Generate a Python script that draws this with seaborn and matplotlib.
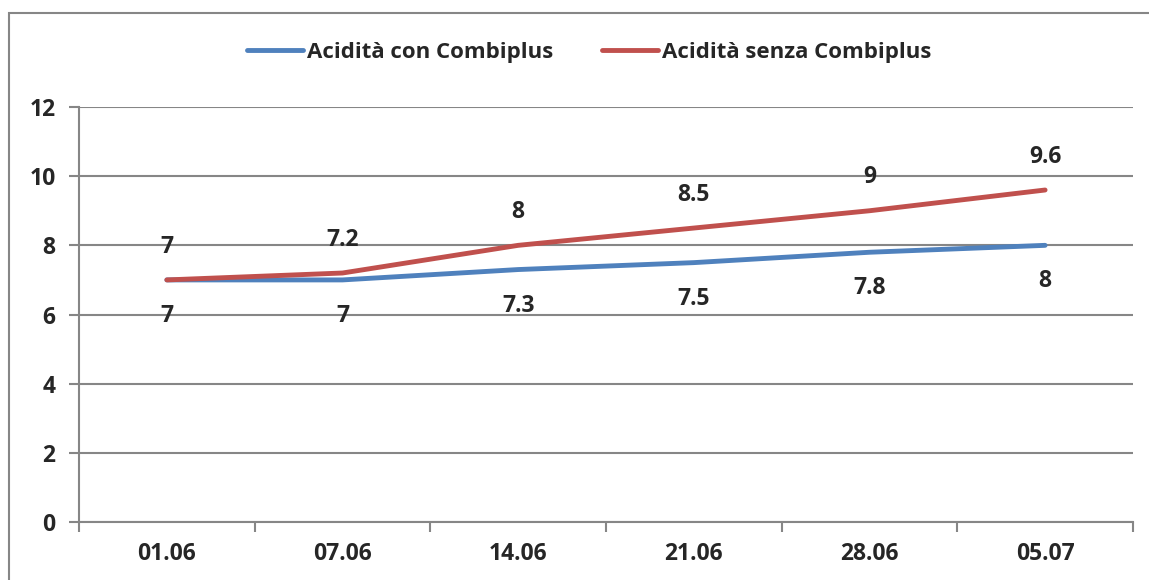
import numpy as np
import pandas as pd
import matplotlib.pyplot as plt
import seaborn as sns
from matplotlib.patches import Rectangle

# data
dates = ["01.06", "07.06", "14.06", "21.06", "28.06", "05.07"]
con_combiplus = [7, 7, 7.3, 7.5, 7.8, 8]
senza_combiplus = [7, 7.2, 8, 8.5, 9, 9.6]
series_names = ["Acidità con Combiplus", "Acidità senza Combiplus"]
colors = ["#4F81BD", "#C0504D"]

# long-form table for seaborn
df = pd.DataFrame({
    "pos": list(range(len(dates))) * 2,
    "value": con_combiplus + senza_combiplus,
    "serie": [series_names[0]] * len(dates) + [series_names[1]] * len(dates),
})

sns.set_style("white")
plt.rcParams['font.family'] = ['Open Sans', 'DejaVu Sans']
plt.rcParams['font.weight'] = 'bold'
fs = 16.5

fig = plt.figure(figsize=(11.49, 5.80), dpi=100)
ax = fig.add_axes([0.0688, 0.1, 0.9172, 0.7155])

sns.lineplot(data=df, x="pos", y="value", hue="serie", palette=colors,
             linewidth=3.5, ax=ax, legend=True)
for line in ax.lines:
    line.set_solid_capstyle("round")

# data labels: blue below, red above
for i, v in enumerate(con_combiplus):
    ax.annotate(f"{v:g}", (i, v), xytext=(0, -26), textcoords="offset points",
                ha="center", va="center", fontsize=fs, fontweight="bold")
for i, v in enumerate(senza_combiplus):
    ax.annotate(f"{v:g}", (i, v), xytext=(0, 24), textcoords="offset points",
                ha="center", va="center", fontsize=fs, fontweight="bold")

ax.set_xlim(-0.5, len(dates) - 0.5)
ax.set_ylim(0, 12)
ax.set_yticks(np.arange(0, 13, 2))
ax.set_xticks(range(len(dates)))
ax.set_xticklabels(dates)
ax.set_xticks(np.arange(-0.5, len(dates), 1), minor=True)
ax.set_xlabel("")
ax.set_ylabel("")

grid_c = "#868686"
ax.grid(axis="y", color=grid_c, linewidth=1.5)
ax.set_axisbelow(True)
for side in ["top", "right"]:
    ax.spines[side].set_visible(False)
for side in ["left", "bottom"]:
    ax.spines[side].set_color(grid_c)
    ax.spines[side].set_linewidth(1.5)

ax.tick_params(axis="y", which="major", left=True, length=7, width=1.5,
               color=grid_c, labelsize=fs, pad=10)
ax.tick_params(axis="x", which="major", bottom=False, labelsize=fs, pad=11)
ax.tick_params(axis="x", which="minor", bottom=True, length=7, width=1.5,
               color=grid_c)
for lab in ax.get_xticklabels() + ax.get_yticklabels():
    lab.set_fontweight("bold")

handles, labels = ax.get_legend_handles_labels()
ax.legend(handles, labels, loc="center", bbox_to_anchor=(0.513, 0.91),
          bbox_transform=fig.transFigure, ncol=2, frameon=False,
          prop={"size": 16, "weight": "bold"}, handlelength=2.5,
          handletextpad=0.2, columnspacing=2.2)

# outer chart border (right/bottom fall outside the image)
fig.patches.append(Rectangle((9 / 1149, -0.05), 1.1, 0.05 + (580 - 13) / 580,
                             transform=fig.transFigure, fill=False,
                             edgecolor=grid_c, linewidth=1.5))

fig.savefig("out.png", dpi=100)
